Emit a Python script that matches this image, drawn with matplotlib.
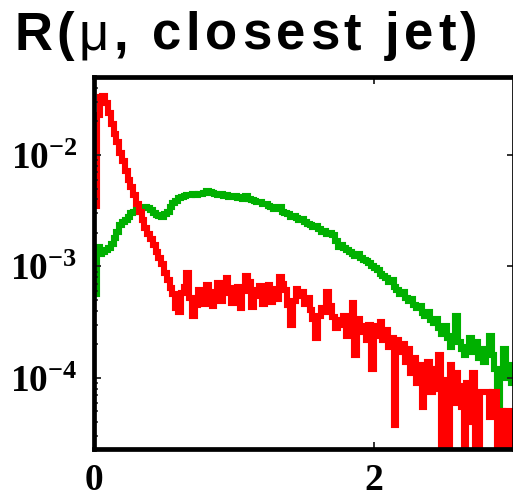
import matplotlib
matplotlib.use("Agg")
import matplotlib.pyplot as plt
import numpy as np
from matplotlib.ticker import LogLocator, FixedLocator, FuncFormatter, NullFormatter

plt.rcParams['mathtext.fontset'] = 'custom'
plt.rcParams['mathtext.rm'] = 'Liberation Serif:bold'
plt.rcParams['mathtext.bf'] = 'Liberation Serif:bold'

# bin edges of the histograms (0.02 wide, 0 to 3)
edges = np.linspace(0.0, 3.0, 151)

# muon -> closest jet distance, prompt-like sample (red)
red_vals = [
    3.5e-3, 2.3e-2, 3.3e-2, 3.4e-2, 2.9e-2, 2.4e-2, 1.9e-2, 1.55e-2, 1.3e-2, 1.05e-2,
    8.8e-3, 7.2e-3, 6.0e-3, 5.2e-3, 4.4e-3, 3.6e-3, 3.1e-3, 2.6e-3, 2.2e-3, 1.95e-3,
    1.75e-3, 1.55e-3, 1.35e-3, 1.2e-3, 1.05e-3, 8.8e-4, 7.5e-4, 6.4e-4, 5.6e-4, 4.2e-4,
    3.9e-4, 5.8e-4, 6.6e-4, 8.8e-4, 5.2e-4, 3.6e-4, 4.5e-4, 6.2e-4, 5.3e-4, 4.6e-4,
    6.8e-4, 5.9e-4, 4.4e-4, 5.6e-4, 7.1e-4, 4.9e-4, 5.8e-4, 7.8e-4, 6.4e-4, 4.7e-4,
    5.5e-4, 6.6e-4, 4.2e-4, 6.0e-4, 8.2e-4, 7.2e-4, 4.3e-4, 6.1e-4, 5.4e-4, 6.7e-4,
    4.6e-4, 5.9e-4, 6.8e-4, 4.8e-4, 6.3e-4, 5.1e-4, 8.1e-4, 7.0e-4, 6.2e-4, 4.5e-4,
    3.0e-4, 4.9e-4, 6.3e-4, 5.4e-4, 5.9e-4, 4.6e-4, 5.2e-4, 4.1e-4, 3.4e-4, 2.3e-4,
    3.6e-4, 4.2e-4, 3.9e-4, 5.9e-4, 4.4e-4, 3.5e-4, 2.8e-4, 3.3e-4, 3.0e-4, 3.6e-4,
    2.4e-4, 3.1e-4, 4.7e-4, 1.6e-4, 3.4e-4, 2.6e-4, 2.9e-4, 2.2e-4, 3.0e-4, 1.2e-4,
    2.9e-4, 2.4e-4, 3.2e-4, 2.2e-4, 2.7e-4, 1.9e-4, 2.3e-4, 3.8e-5, 2.2e-4, 1.7e-4,
    2.0e-4, 1.4e-4, 1.8e-4, 1.1e-4, 1.5e-4, 9.0e-5, 1.3e-4, 5.5e-5, 1.1e-4, 1.4e-4,
    7.5e-5, 1.2e-4, 8.0e-5, 1.6e-4, 1e-6, 9.5e-5, 1e-6, 1.3e-4, 6.0e-5, 1.1e-4,
    8.5e-5, 5.5e-5, 1e-6, 9.0e-5, 4.0e-5, 1.1e-4, 1e-6, 1e-6, 7.5e-5, 7.5e-5,
    7.5e-5, 4.5e-5, 7.5e-5, 7.5e-5, 1e-6, 5.0e-5, 1e-6, 5.0e-5, 5.0e-5, 1e-6,
]

# non-prompt sample (green)
green_vals = [
    5.6e-4, 1.5e-3, 1.3e-3, 1.35e-3, 1.4e-3, 1.45e-3, 1.6e-3, 1.8e-3, 2.05e-3, 2.35e-3,
    2.5e-3, 2.6e-3, 2.8e-3, 3.0e-3, 3.1e-3, 3.2e-3, 3.3e-3, 3.4e-3, 3.45e-3, 3.35e-3,
    3.2e-3, 3.0e-3, 2.9e-3, 2.85e-3, 2.8e-3, 2.95e-3, 3.1e-3, 3.4e-3, 3.7e-3, 3.9e-3,
    4.1e-3, 4.2e-3, 4.3e-3, 4.4e-3, 4.35e-3, 4.45e-3, 4.4e-3, 4.5e-3, 4.45e-3, 4.6e-3,
    4.8e-3, 4.7e-3, 4.6e-3, 4.5e-3, 4.4e-3, 4.45e-3, 4.3e-3, 4.35e-3, 4.2e-3, 4.3e-3,
    4.25e-3, 4.1e-3, 4.2e-3, 4.05e-3, 4.3e-3, 4.0e-3, 3.95e-3, 3.9e-3, 3.8e-3, 3.75e-3,
    3.6e-3, 3.65e-3, 3.5e-3, 3.4e-3, 3.3e-3, 3.35e-3, 3.45e-3, 3.1e-3, 3.0e-3, 2.95e-3,
    2.8e-3, 2.85e-3, 2.7e-3, 2.6e-3, 2.65e-3, 2.5e-3, 2.4e-3, 2.35e-3, 2.25e-3, 2.3e-3,
    2.15e-3, 2.05e-3, 2.1e-3, 1.95e-3, 2.0e-3, 1.9e-3, 1.7e-3, 1.5e-3, 1.55e-3, 1.45e-3,
    1.4e-3, 1.35e-3, 1.3e-3, 1.25e-3, 1.3e-3, 1.2e-3, 1.15e-3, 1.12e-3, 1.08e-3, 1.0e-3,
    9.6e-4, 9.2e-4, 8.6e-4, 8.2e-4, 7.9e-4, 7.2e-4, 7.5e-4, 6.6e-4, 6.2e-4, 5.6e-4,
    5.9e-4, 5.2e-4, 4.9e-4, 5.1e-4, 4.5e-4, 4.2e-4, 4.4e-4, 3.8e-4, 3.6e-4, 3.9e-4,
    3.3e-4, 3.1e-4, 3.4e-4, 2.8e-4, 2.5e-4, 2.9e-4, 2.3e-4, 1.9e-4, 2.4e-4, 3.6e-4,
    2.1e-4, 1.8e-4, 1.6e-4, 1.9e-4, 2.3e-4, 1.7e-4, 2.1e-4, 1.5e-4, 1.8e-4, 1.4e-4,
    1.7e-4, 2.4e-4, 1.6e-4, 1.2e-4, 5.5e-5, 1.1e-4, 1.8e-4, 1.0e-4, 1.3e-4, 9.0e-5,
]

xticks = [0, 2]
yticks = [1e-4, 1e-3, 1e-2]
title = "R(\u03bc, closest jet)"

fig = plt.figure(figsize=(5.13, 4.99), dpi=100)
ax = fig.add_axes([0.1832, 0.1002, 0.8187, 0.7445])

ax.stairs(green_vals, edges, baseline=None, color='#00b000', linewidth=4.4)
ax.stairs(red_vals, edges, baseline=None, color='#ff0000', linewidth=4.4)

ax.set_yscale('log')
ax.set_xlim(0, 3)
ax.set_ylim(2.3e-5, 4.96e-2)

for s in ax.spines.values():
    s.set_linewidth(3.4)

ax.xaxis.set_major_locator(FixedLocator(xticks))
ax.xaxis.set_major_formatter(FuncFormatter(lambda v, p: r'$\mathbf{%d}$' % v))
ax.yaxis.set_major_locator(FixedLocator(yticks))
ax.yaxis.set_minor_locator(LogLocator(base=10, subs=np.arange(2, 10)))
ax.yaxis.set_minor_formatter(NullFormatter())
ax.yaxis.set_major_formatter(
    FuncFormatter(lambda v, p: r'$\mathbf{10^{%d}}$' % round(np.log10(v))))

ax.tick_params(which='major', direction='in', length=5, width=1.3,
               top=True, right=True, labelsize=27, color='#222222')
ax.tick_params(which='minor', direction='in', length=3, width=1.1,
               right=False, color='#222222')
ax.tick_params(axis='y', which='major', pad=12)
ax.tick_params(axis='x', which='major', pad=9)

# title drawn letter by letter with some tracking; the mu is thin
fig.canvas.draw()
renderer = fig.canvas.get_renderer()
x0 = 14 / 513
yb = 1 - 50 / 499
track = 4.6 / 513
for ch in title:
    weight = 'normal' if ch == '\u03bc' else 'bold'
    t = fig.text(x0, yb, ch, fontsize=38, va='baseline', ha='left',
                 fontweight=weight, family='Liberation Sans')
    bb = t.get_window_extent(renderer=renderer)
    x0 = bb.x1 / fig.bbox.width + track

fig.savefig('out.png', dpi=100)
